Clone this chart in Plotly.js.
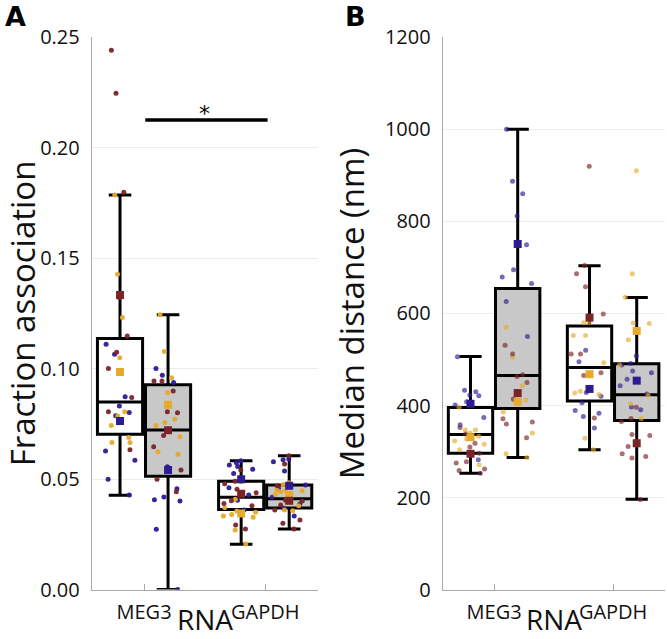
<!DOCTYPE html>
<html>
<head>
<meta charset="utf-8">
<script src="https://cdn.plot.ly/plotly-3.0.1.min.js"></script>
<style>
  html, body { margin: 0; padding: 0; background: #fff; }
  #chart { width: 667px; height: 639px; }
</style>
</head>
<body>
<div id="chart"></div>
<script>
const rnas = ["MEG3", "GAPDH"];
// replicate colours: blue, gold, red
const repColors = ["#2c1b92", "#e6aa2c", "#7b2428"];

// box stats per RNA: [lower whisker, q1, median, q3, upper whisker]
const fracWhiteStats = [[0.0427, 0.0703, 0.0849, 0.1137, 0.1786], [0.0205, 0.0363, 0.0418, 0.0491, 0.0583]];
const fracGrayStats = [[0.0000, 0.0513, 0.0722, 0.0927, 0.1244], [0.0274, 0.0369, 0.0411, 0.0473, 0.0606]];
const distWhiteStats = [[253, 296.5, 337, 395.7, 506.5], [303.7, 410, 482.6, 573, 703.7]];
const distGrayStats = [[287, 393.5, 465, 654, 1000], [196.5, 367.4, 423.3, 490.7, 634.8]];

// single cells, per RNA -> [blue, gold, red]
const fracWhiteMeg3 = [
  [0.1111, 0.1065, 0.0873, 0.0831, 0.0802, 0.0787, 0.0627, 0.0586, 0.0500, 0.0428],
  [0.1786, 0.1428, 0.1232, 0.1049, 0.0805, 0.0786, 0.0743, 0.0689, 0.0666, 0.0666],
  [0.2441, 0.2247, 0.1799, 0.1321, 0.1148, 0.1074, 0.1001, 0.0870, 0.0805, 0.0633]
];
const fracWhiteGapdh = [
  [0.0583, 0.0574, 0.0564, 0.0557, 0.0545, 0.0526, 0.0461, 0.0428, 0.0404, 0.0360],
  [0.0488, 0.0409, 0.0371, 0.0356, 0.0350, 0.0340, 0.0333, 0.0328, 0.0270, 0.0206],
  [0.0541, 0.0491, 0.0479, 0.0454, 0.0438, 0.0402, 0.0390, 0.0380, 0.0292, 0.0274]
];
const fracGrayMeg3 = [
  [0.1001, 0.0970, 0.0938, 0.0556, 0.0457, 0.0419, 0.0407, 0.0401, 0.0273, 0.0000],
  [0.1244, 0.1078, 0.0959, 0.0891, 0.0771, 0.0756, 0.0743, 0.0692, 0.0624, 0.0613],
  [0.0944, 0.0944, 0.0899, 0.0805, 0.0800, 0.0698, 0.0647, 0.0541, 0.0499, 0.0443]
];
const fracGrayGapdh = [
  [0.0591, 0.0588, 0.0579, 0.0537, 0.0473, 0.0458, 0.0418, 0.0387, 0.0368, 0.0333],
  [0.0484, 0.0476, 0.0451, 0.0448, 0.0448, 0.0443, 0.0430, 0.0380, 0.0360, 0.0357],
  [0.0606, 0.0568, 0.0470, 0.0405, 0.0401, 0.0383, 0.0360, 0.0315, 0.0300, 0.0274]
];
const distWhiteMeg3 = [
  [506, 433, 430, 423, 421, 408, 401, 374, 358, 282],
  [396, 347, 347, 340, 333, 327, 323, 316, 304, 271],
  [352, 338, 318, 310, 296, 278, 275, 262, 259, 253]
];
const distWhiteGapdh = [
  [594, 520, 495, 428, 420, 406, 389, 383, 376, 351],
  [580, 580, 552, 552, 493, 431, 427, 424, 329, 304],
  [920, 704, 686, 658, 599, 512, 512, 471, 465, 373]
];
const distGrayMeg3 = [
  [1000, 887, 860, 812, 749, 695, 679, 665, 626, 550],
  [570, 505, 443, 430, 412, 411, 386, 340, 295, 287],
  [531, 512, 467, 463, 450, 414, 371, 364, 360, 330]
];
const distGrayGapdh = [
  [508, 491, 488, 475, 471, 457, 443, 425, 397, 391],
  [910, 686, 635, 579, 578, 543, 488, 422, 404, 372],
  [396, 372, 365, 337, 335, 311, 295, 289, 286, 196]
];

// replicate means per RNA: [blue, gold, red]
const fracWhiteMeans = [[0.0763, 0.0985, 0.1333], [0.0500, 0.0345, 0.0434]];
const fracGrayMeans = [[0.0541, 0.0837, 0.0721], [0.0470, 0.0428, 0.0402]];
const distWhiteMeans = [[404, 331, 295], [436, 468, 591]];
const distGrayMeans = [[751, 408, 427], [454, 562, 318]];

const sigLevel = 0.2126;

function statsBox(stats, cond, fill, xa, ya) {
  return {
    type: "box", x: rnas, xaxis: xa, yaxis: ya,
    lowerfence: stats.map((s) => s[0]),
    q1: stats.map((s) => s[1]),
    median: stats.map((s) => s[2]),
    q3: stats.map((s) => s[3]),
    upperfence: stats.map((s) => s[4]),
    offsetgroup: cond, boxpoints: false,
    fillcolor: fill, whiskerwidth: 0.5,
    line: { color: "#000", width: 3 },
    hoverinfo: "skip", showlegend: false,
  };
}

// invisible box, only used so plotly jitters the points inside the box width
function pointBox(byRna, rep, cond, xa, ya, opacity) {
  const x = [], y = [];
  byRna.forEach((reps, i) => reps[rep].forEach((v) => { x.push(rnas[i]); y.push(v); }));
  return {
    type: "box", x, y, xaxis: xa, yaxis: ya, offsetgroup: cond,
    boxpoints: "all", jitter: 0.85, pointpos: 0, whiskerwidth: 0,
    fillcolor: "rgba(0,0,0,0)", line: { width: 0, color: "rgba(0,0,0,0)" },
    marker: { color: repColors[rep], size: 5, opacity },
    hoveron: "points", showlegend: false,
  };
}

function meanBox(means, rep, cond, xa, ya) {
  return {
    type: "box", x: rnas, y: means.map((m) => m[rep]), xaxis: xa, yaxis: ya, offsetgroup: cond,
    boxpoints: "all", jitter: 0, pointpos: 0, whiskerwidth: 0,
    fillcolor: "rgba(0,0,0,0)", line: { width: 0, color: "rgba(0,0,0,0)" },
    marker: { color: repColors[rep], size: 8, symbol: "square", opacity: 1 },
    hoveron: "points", showlegend: false,
  };
}

function panel(whiteStats, grayStats, white, gray, whiteMeans, grayMeans, xa, ya, opacity) {
  const traces = [statsBox(whiteStats, "c1", "#ffffff", xa, ya), statsBox(grayStats, "c2", "#c8c8c8", xa, ya)];
  for (let r = 0; r < 3; r++) {
    traces.push(pointBox(white, r, "c1", xa, ya, opacity));
    traces.push(pointBox(gray, r, "c2", xa, ya, opacity));
  }
  for (let r = 0; r < 3; r++) {
    traces.push(meanBox(whiteMeans, r, "c1", xa, ya));
    traces.push(meanBox(grayMeans, r, "c2", xa, ya));
  }
  return traces;
}

const data = [
  ...panel(fracWhiteStats, fracGrayStats, [fracWhiteMeg3, fracWhiteGapdh], [fracGrayMeg3, fracGrayGapdh],
    fracWhiteMeans, fracGrayMeans, "x", "y", 0.95),
  ...panel(distWhiteStats, distGrayStats, [distWhiteMeg3, distWhiteGapdh], [distGrayMeg3, distGrayGapdh],
    distWhiteMeans, distGrayMeans, "x2", "y2", 0.65),
];

const W = 667, H = 639;
const yDom = [1 - 589.6 / H, 1 - 37.3 / H];

function xAxis(domain, anchor) {
  return {
    domain, anchor, type: "category", categoryarray: rnas, range: [-0.432, 1.436],
    showline: true, linecolor: "#aaa", linewidth: 1, showgrid: false, zeroline: false,
    ticks: "inside", ticklen: 6, tickcolor: "#aaa", ticklabelstandoff: 4,
    tickfont: { size: 20, color: "#111" },
  };
}
function yAxis(domain, anchor, range, dtick, fmt, title, standoff) {
  return {
    domain, anchor, range, dtick, tickformat: fmt,
    showline: true, linecolor: "#aaa", linewidth: 1, showgrid: true, gridcolor: "#ececec",
    zeroline: false, ticks: "", ticklabelstandoff: 7,
    tickfont: { size: 20, color: "#111" },
    title: { text: title, font: { size: 33, color: "#111" }, standoff },
  };
}
function xTitle(xref) {
  return { xref, yref: "paper", x: 0.5, y: 0, xanchor: "center", yanchor: "bottom", yshift: -1,
    text: "RNA", showarrow: false, font: { size: 28, color: "#111" } };
}
function panelLabel(x, text) {
  return { xref: "paper", yref: "paper", x: x / W, y: 1 - 16.5 / H, xanchor: "left", yanchor: "middle",
    text: "<b>" + text + "</b>", showarrow: false, font: { family: "DejaVu Sans", size: 27, color: "#000" } };
}

const layout = {
  width: W, height: H,
  margin: { l: 0, r: 0, t: 0, b: 0 },
  paper_bgcolor: "#fff", plot_bgcolor: "#fff",
  font: { family: "Open Sans", color: "#111" },
  boxmode: "group", boxgap: 0.207, boxgroupgap: 0.06,
  showlegend: false,
  xaxis: xAxis([91.7 / W, 318 / W], "y"),
  yaxis: yAxis(yDom, "x", [0, 0.25], 0.05, ".2f", "Fraction association", 26),
  xaxis2: xAxis([442.7 / W, 665 / W], "y2"),
  yaxis2: yAxis(yDom, "x2", [0, 1200], 200, "", "Median distance (nm)", 10),
  shapes: [
    { type: "line", xref: "x", yref: "y", x0: 0.01, x1: 1.02, y0: sigLevel, y1: sigLevel,
      line: { color: "#000", width: 3.5 } },
  ],
  annotations: [
    { xref: "x", yref: "y", x: 0.5, y: sigLevel, text: "*", showarrow: false,
      yanchor: "bottom", yshift: -8, font: { family: "DejaVu Sans", size: 22, color: "#000" } },
    xTitle("x domain"),
    xTitle("x2 domain"),
    panelLabel(3, "A"),
    panelLabel(343, "B"),
  ],
};

Plotly.newPlot("chart", data, layout, { displayModeBar: false, staticPlot: true });
</script>
</body>
</html>
